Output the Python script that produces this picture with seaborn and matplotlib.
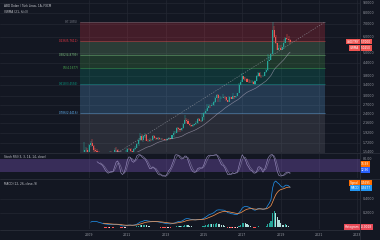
import numpy as np
import pandas as pd
import matplotlib
matplotlib.use("Agg")
import matplotlib.pyplot as plt
import matplotlib.transforms as mtransforms
from matplotlib.patches import Rectangle
from matplotlib.lines import Line2D
import seaborn as sns

# ---------------- data ----------------
title = "ABD Doları / Türk Lirası, 1A, FXCM"
vwma_title = "VWMA (21, hlc3)"
stoch_title = "Stoch RSI (3, 3, 14, 14, close)"
macd_title = "MACD (12, 26, close, 9)"

start_year = 2007          # first monthly bar = Jan 2007
first_open = 1.420

close_2007 = [1.418, 1.404, 1.386, 1.345, 1.322, 1.306, 1.262, 1.333, 1.207, 1.192, 1.205, 1.170]
high_2007 = [1.445, 1.430, 1.452, 1.395, 1.360, 1.345, 1.320, 1.395, 1.340, 1.222, 1.225, 1.215]
low_2007 = [1.395, 1.390, 1.385, 1.330, 1.310, 1.290, 1.255, 1.250, 1.200, 1.165, 1.165, 1.155]
close_2008 = [1.167, 1.205, 1.330, 1.272, 1.230, 1.230, 1.165, 1.180, 1.245, 1.570, 1.578, 1.520]
high_2008 = [1.215, 1.230, 1.370, 1.345, 1.290, 1.265, 1.240, 1.230, 1.265, 1.730, 1.640, 1.610]
low_2008 = [1.155, 1.155, 1.205, 1.265, 1.210, 1.200, 1.150, 1.155, 1.165, 1.240, 1.505, 1.460]
close_2009 = [1.665, 1.712, 1.660, 1.575, 1.552, 1.540, 1.482, 1.494, 1.478, 1.454, 1.492, 1.500]
high_2009 = [1.700, 1.760, 1.800, 1.680, 1.610, 1.590, 1.550, 1.515, 1.505, 1.495, 1.530, 1.545]
low_2009 = [1.515, 1.640, 1.650, 1.545, 1.525, 1.505, 1.475, 1.455, 1.445, 1.430, 1.430, 1.475]
close_2010 = [1.482, 1.535, 1.522, 1.481, 1.583, 1.575, 1.509, 1.510, 1.443, 1.425, 1.508, 1.545]
high_2010 = [1.510, 1.555, 1.550, 1.525, 1.620, 1.625, 1.590, 1.530, 1.515, 1.445, 1.545, 1.575]
low_2010 = [1.440, 1.475, 1.500, 1.465, 1.470, 1.550, 1.500, 1.475, 1.440, 1.385, 1.395, 1.490]
close_2011 = [1.595, 1.590, 1.547, 1.513, 1.587, 1.620, 1.700, 1.780, 1.860, 1.775, 1.850, 1.890]
high_2011 = [1.615, 1.620, 1.615, 1.555, 1.605, 1.645, 1.705, 1.805, 1.920, 1.905, 1.885, 1.935]
low_2011 = [1.530, 1.575, 1.525, 1.480, 1.505, 1.575, 1.615, 1.650, 1.755, 1.745, 1.730, 1.825]
close_2012 = [1.760, 1.750, 1.777, 1.768, 1.850, 1.810, 1.792, 1.825, 1.787, 1.793, 1.790, 1.780]
high_2012 = [1.900, 1.790, 1.810, 1.797, 1.880, 1.880, 1.835, 1.840, 1.830, 1.820, 1.820, 1.795]
low_2012 = [1.760, 1.730, 1.740, 1.746, 1.755, 1.800, 1.775, 1.770, 1.780, 1.775, 1.775, 1.768]
close_2013 = [1.764, 1.802, 1.809, 1.795, 1.870, 1.930, 1.934, 2.036, 2.022, 1.990, 2.034, 2.148]
high_2013 = [1.795, 1.815, 1.830, 1.815, 1.880, 1.975, 1.965, 2.065, 2.075, 2.038, 2.054, 2.175]
low_2013 = [1.750, 1.760, 1.790, 1.782, 1.788, 1.842, 1.902, 1.930, 1.955, 1.956, 1.970, 2.008]
close_2014 = [2.257, 2.212, 2.140, 2.112, 2.085, 2.124, 2.144, 2.173, 2.278, 2.232, 2.225, 2.334]
high_2014 = [2.392, 2.290, 2.270, 2.164, 2.120, 2.140, 2.155, 2.210, 2.290, 2.290, 2.260, 2.445]
low_2014 = [2.136, 2.175, 2.140, 2.093, 2.060, 2.062, 2.100, 2.125, 2.154, 2.222, 2.195, 2.201]
close_2015 = [2.443, 2.504, 2.603, 2.668, 2.656, 2.691, 2.776, 2.918, 3.029, 2.916, 2.916, 2.918]
high_2015 = [2.458, 2.550, 2.703, 2.724, 2.700, 2.750, 2.815, 2.945, 3.075, 3.060, 2.970, 2.950]
low_2015 = [2.255, 2.418, 2.490, 2.577, 2.593, 2.644, 2.661, 2.761, 2.918, 2.775, 2.780, 2.885]
close_2016 = [2.963, 2.956, 2.832, 2.795, 2.953, 2.883, 2.990, 2.962, 2.996, 3.100, 3.420, 3.520]
high_2016 = [3.075, 2.990, 2.955, 2.860, 2.992, 2.960, 3.095, 3.000, 3.002, 3.112, 3.488, 3.595]
low_2016 = [2.925, 2.898, 2.810, 2.785, 2.795, 2.872, 2.867, 2.898, 2.910, 3.000, 3.095, 3.385]
close_2017 = [3.768, 3.650, 3.640, 3.540, 3.530, 3.515, 3.520, 3.455, 3.564, 3.795, 3.926, 3.790]
high_2017 = [3.944, 3.760, 3.740, 3.704, 3.650, 3.603, 3.605, 3.580, 3.592, 3.839, 3.990, 3.950]
low_2017 = [3.509, 3.610, 3.581, 3.540, 3.480, 3.492, 3.495, 3.440, 3.386, 3.554, 3.760, 3.764]
close_2018 = [3.770, 3.800, 3.955, 4.055, 4.510, 4.580, 4.910, 6.550, 6.050, 5.570, 5.180, 5.290]
high_2018 = [3.830, 3.836, 3.965, 4.091, 4.924, 4.805, 4.985, 7.1855, 6.880, 6.160, 5.625, 5.440]
low_2018 = [3.715, 3.742, 3.783, 3.922, 4.037, 4.515, 4.558, 4.915, 5.918, 5.551, 5.156, 5.245]
close_2019 = [5.185, 5.320, 5.610, 5.970, 5.840, 5.800, 5.700]
high_2019 = [5.438, 5.343, 5.860, 6.017, 6.241, 6.077, 5.840]
low_2019 = [5.152, 5.165, 5.190, 5.580, 5.816, 5.700, 5.548]

fib_levels = [0, 0.236, 0.382, 0.5, 0.618, 0.786, 1]
fib_colors = ["#787b86", "#f23645", "#81c784", "#4caf50", "#089981", "#64b5f6", "#787b86"]
fib_high = 7.1855
fib_low = 1.1500
fib_start = 2008.53
fib_end = 2021.32

price_ticks = [9.0, 8.0, 7.0, 6.0, 5.0, 4.4, 3.8, 3.4, 3.0, 2.7, 2.4, 2.16, 1.92, 1.72, 1.54]
macd_ticks = [0.4, 0.2]
year_ticks = [2009, 2011, 2013, 2015, 2017, 2019, 2021, 2023]

# ---------------- derived series ----------------
close = np.array(close_2007 + close_2008 + close_2009 + close_2010 + close_2011 + close_2012 +
                 close_2013 + close_2014 + close_2015 + close_2016 + close_2017 + close_2018 + close_2019)
high = np.array(high_2007 + high_2008 + high_2009 + high_2010 + high_2011 + high_2012 +
                high_2013 + high_2014 + high_2015 + high_2016 + high_2017 + high_2018 + high_2019)
low = np.array(low_2007 + low_2008 + low_2009 + low_2010 + low_2011 + low_2012 +
               low_2013 + low_2014 + low_2015 + low_2016 + low_2017 + low_2018 + low_2019)
opn = np.r_[first_open, close[:-1]]
n = len(close)
t = start_year + np.arange(n) / 12.0

cs = pd.Series(close)
hlc3 = pd.Series((high + low + close) / 3)
vwma = hlc3.rolling(21).mean()

delta = cs.diff()
gain = delta.clip(lower=0)
loss = (-delta).clip(lower=0)
ag = gain.ewm(alpha=1 / 14, adjust=False, min_periods=14).mean()
al = loss.ewm(alpha=1 / 14, adjust=False, min_periods=14).mean()
rsi = 100 - 100 / (1 + ag / al)
rmin = rsi.rolling(14).min()
rmax = rsi.rolling(14).max()
stoch = (rsi - rmin) / (rmax - rmin) * 100
k_line = stoch.rolling(3).mean()
d_line = k_line.rolling(3).mean()

ema12 = cs.ewm(span=12, adjust=False).mean()
ema26 = cs.ewm(span=26, adjust=False).mean()
macd = ema12 - ema26
signal = macd.ewm(span=9, adjust=False).mean()
hist = macd - signal
macd[:25] = np.nan
signal[:33] = np.nan
hist[:33] = np.nan

fib_prices = [fib_high - lv * (fib_high - fib_low) for lv in fib_levels]

# ---------------- style ----------------
sns.set_theme(style="dark")
BG = "#131722"
GRID = "#232733"
TXT = "#9598a1"
UP = "#26a69a"
DN = "#ef5350"
plt.rcParams["font.family"] = ["DejaVu Sans"]

W, H = 380.0, 240.0
PR = 360.0
fig = plt.figure(figsize=(3.8, 2.4), dpi=100)
fig.patch.set_facecolor(BG)


def pane(top, bottom):
    a = fig.add_axes([0, 1 - bottom / H, PR / W, (bottom - top) / H])
    a.set_facecolor(BG)
    for s in a.spines.values():
        s.set_visible(False)
    a.set_xticks([])
    a.set_yticks([])
    a.set_xlim(2004.35, 2023.15)
    for yr in year_ticks:
        a.axvline(yr, color=GRID, lw=0.5, zorder=0)
    return a


ax = pane(0, 152)
ax_r = pane(153, 178)
ax_m = pane(179, 229)

# ---- main pane ----
ax.set_yscale("log")
ax.set_ylim(1.537, 9.33)
ax.set_yticks([])
ax.minorticks_off()
for p in price_ticks:
    ax.axhline(p, color=GRID, lw=0.5, zorder=0)

for i in range(len(fib_levels) - 1):
    ax.fill_between([fib_start, fib_end], fib_prices[i], fib_prices[i + 1],
                    color=fib_colors[i + 1], alpha=0.22, lw=0, zorder=1)
for lv, p, c in zip(fib_levels, fib_prices, fib_colors):
    ax.plot([fib_start, fib_end], [p, p], color=c, lw=0.4, alpha=0.75, zorder=2)
    ax.text(fib_start - 0.08, p, f"{lv:g}({p:.4f})", ha="right", va="center",
            color=c, fontsize=2.0, clip_on=True, zorder=3)
ax.plot([fib_start, fib_end], [fib_low, fib_high], color="#9598a1", lw=0.45,
        ls=(0, (2, 2)), alpha=0.8, zorder=2)

cols = np.where(close >= opn, UP, DN)
ax.vlines(t, low, high, colors=cols, lw=0.35, zorder=4)
ax.bar(t, np.abs(close - opn), bottom=np.minimum(close, opn), width=0.055,
       color=cols, lw=0, zorder=5)

sns.lineplot(x=t, y=vwma.values, ax=ax, color="#a9a3b8", lw=0.45, alpha=0.7,
             estimator=None, errorbar=None, zorder=6)

trans = mtransforms.blended_transform_factory(ax.transAxes, ax.transData)
for p in price_ticks:
    ax.text(1 + 3 / PR, p, f"{p:.4f}", transform=trans, ha="left", va="center",
            fontsize=2.3, color=TXT, clip_on=False)
last = close[-1]
vl = vwma.values[-1]
vtag_y = last * np.exp(-6.5 / 84.3)   # tag stacked just under the price tag
for yv, name, val in ((last, "USD/TRY", last), (vtag_y, "VWMA", vl)):
    ax.text(1 + 1 / PR, yv, f"{val:.4f}", transform=trans, ha="left", va="center",
            fontsize=2.1, color="white", clip_on=False, zorder=10,
            bbox=dict(fc=DN, ec="none", pad=0.6))
    ax.text(1 - 1 / PR, yv, name, transform=trans, ha="right", va="center",
            fontsize=2.1, color="white", clip_on=False, zorder=10,
            bbox=dict(fc=DN, ec="none", pad=0.6))

fig.text(4 / W, 1 - 6 / H, title, fontsize=2.1, color="#c9cbd1", va="center")
fig.text(4 / W, 1 - 12 / H, vwma_title, fontsize=2.1, color="#c9cbd1", va="center")

# ---- stoch RSI pane ----
ax_r.set_ylim(-8, 108)
ax_r.axhspan(20, 80, color="#7e57c2", alpha=0.35, lw=0, zorder=1)
sns.lineplot(x=t, y=k_line.values, ax=ax_r, color="#a99ccf", lw=0.45, alpha=0.85,
             estimator=None, errorbar=None, zorder=3)
sns.lineplot(x=t, y=d_line.values, ax=ax_r, color="#807a9f", lw=0.45, alpha=0.85,
             estimator=None, errorbar=None, zorder=3)
tr_r = mtransforms.blended_transform_factory(ax_r.transAxes, ax_r.transData)
ax_r.text(1 + 3 / PR, 80, "80.00", transform=tr_r, ha="left", va="center",
          fontsize=2.3, color=TXT, clip_on=False)
kv, dv = k_line.values[-1], d_line.values[-1]
ax_r.text(1 + 1 / PR, 56, f"{max(kv, dv):.2f}", transform=tr_r, ha="left",
          va="center", fontsize=2.1, color="white", clip_on=False,
          bbox=dict(fc="#ff6d00", ec="none", pad=0.6))
ax_r.text(1 + 1 / PR, 30, f"{min(kv, dv):.2f}", transform=tr_r, ha="left",
          va="center", fontsize=2.1, color="white", clip_on=False,
          bbox=dict(fc="#2962ff", ec="none", pad=0.6))
ax_r.text(4 / PR, 0.83, stoch_title, transform=ax_r.transAxes, fontsize=2.1,
          color="#c9cbd1", va="center")

# ---- MACD pane ----
ax_m.set_ylim(-0.029, 0.686)
for v in macd_ticks:
    ax_m.axhline(v, color=GRID, lw=0.5, zorder=0)
hv = hist.values
hprev = np.r_[np.nan, hv[:-1]]
hcols = np.where(hv >= 0, np.where(hv >= hprev, "#26a69a", "#b2dfdb"),
                 np.where(hv < hprev, "#ff5252", "#ffcdd2"))
ok = ~np.isnan(hv)
ax_m.bar(t[ok], hv[ok], width=0.06, color=hcols[ok], lw=0, zorder=2)
sns.lineplot(x=t, y=macd.values, ax=ax_m, color="#2196f3", lw=0.5, estimator=None,
             errorbar=None, zorder=3)
sns.lineplot(x=t, y=signal.values, ax=ax_m, color="#ff9a52", lw=0.5, estimator=None,
             errorbar=None, zorder=3)
tr_m = mtransforms.blended_transform_factory(ax_m.transAxes, ax_m.transData)
for v in macd_ticks:
    ax_m.text(1 + 3 / PR, v, f"{v:.4f}", transform=tr_m, ha="left", va="center",
              fontsize=2.3, color=TXT, clip_on=False)
mv, sv, hl = macd.values[-1], signal.values[-1], hv[-1]
sig_y, macd_y = 0.63, 0.56
for yv, name, val, c in ((sig_y, "Signal", sv, "#ff6d00"), (macd_y, "MACD", mv, "#2196f3"),
                         (0.0, "Histogram", hl, "#e84a57")):
    ax_m.text(1 + 1 / PR, yv, f"{val:.4f}", transform=tr_m, ha="left",
              va="center", fontsize=2.1, color="white", clip_on=False,
              bbox=dict(fc=c, ec="none", pad=0.6))
    ax_m.text(1 - 1 / PR, yv, name, transform=tr_m, ha="right",
              va="center", fontsize=2.1, color="white", clip_on=False,
              bbox=dict(fc=c, ec="none", pad=0.6))
ax_m.text(4 / PR, 0.9, macd_title, transform=ax_m.transAxes, fontsize=2.1,
          color="#c9cbd1", va="center")

# time axis labels
tr_x = mtransforms.blended_transform_factory(ax_m.transData, fig.transFigure)
for yr in year_ticks:
    ax_m.text(yr, 1 - 235 / H, str(yr), transform=tr_x, ha="center", va="center",
              fontsize=2.3, color=TXT, clip_on=False)

# separators & corner
for yy in (152.5, 178.5, 229.5):
    fig.add_artist(Line2D([0, 1], [1 - yy / H] * 2, transform=fig.transFigure,
                          color="#2a2e39", lw=0.6))
fig.add_artist(Line2D([PR / W] * 2, [0, 1], transform=fig.transFigure,
                      color="#2a2e39", lw=0.6, zorder=20))
fig.add_artist(Rectangle(((PR + 0.5) / W, 0), 1, 10 / H, transform=fig.transFigure,
                         fc=BG, ec="none", zorder=30))

fig.savefig("out.png", dpi=100, facecolor=BG)
